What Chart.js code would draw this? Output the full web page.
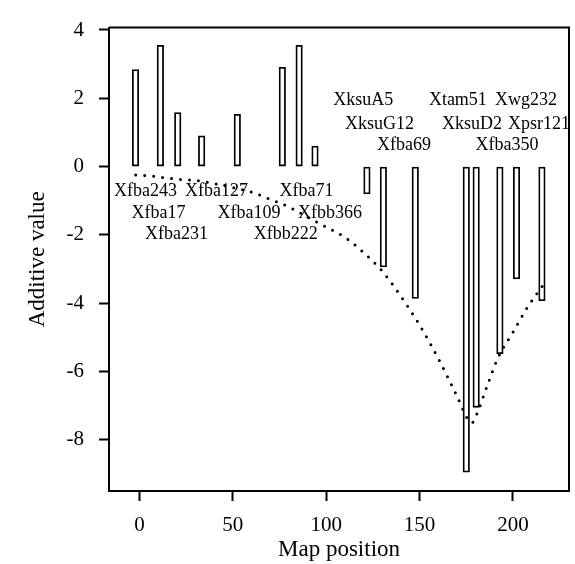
<!DOCTYPE html>
<html>
<head>
<meta charset="utf-8">
<title>Additive value by map position</title>
<script src="https://cdn.jsdelivr.net/npm/chart.js@4.4.1/dist/chart.umd.min.js"></script>
<style>
  html, body { margin: 0; padding: 0; background: #fff; }
  #wrap { width: 575px; height: 564px; position: relative; }
</style>
</head>
<body>
<div id="wrap"><canvas id="qtlChart"></canvas></div>
<script>
// Marker positions (cM) and their additive values
const markerPos = [-2.1, 11.2, 20.5, 33.3, 52.4, 76.5, 85.5, 94, 121.8, 130.6, 147.7, 175, 180.3, 193, 201.9, 215.5];
const additiveValues = [2.84, 3.55, 1.58, 0.90, 1.53, 2.91, 3.55, 0.60, -0.80, -2.94, -3.86, -8.95, -7.05, -5.48, -3.29, -3.93];
const markerNames = ['Xfba243', 'Xfba17', 'Xfba231', 'Xfba127', 'Xfba109', 'Xfbb222', 'Xfba71', 'Xfbb366',
  'XksuA5', 'XksuG12', 'Xfba69', 'Xtam51', 'XksuD2', 'Xfba350', 'Xwg232', 'Xpsr121'];

// Dotted curve along the map
const curvePos = [-2, 5, 14, 23, 29, 40, 60, 70, 80, 90, 100, 110, 120, 130, 140, 150, 160, 170, 176, 178, 181, 186, 192, 200, 208, 216];
const curveValues = [-0.25, -0.27, -0.33, -0.38, -0.40, -0.5, -0.75, -0.96, -1.18, -1.48, -1.77, -2.07, -2.52, -3.06, -3.8, -4.64, -5.62, -6.72, -7.42, -7.5, -7.2, -6.45, -5.6, -4.85, -4.1, -3.48];

// Axis ticks
const xTicks = [0, 50, 100, 150, 200];
const yTicks = [-8, -6, -4, -2, 0, 2, 4];

// Where each marker name sits (in axis units)
const labelX = [3.3, 10.2, 19.8, 41.2, 58.6, 78.4, 89.5, 102, 119.8, 128.6, 141.6, 170.5, 178, 196.8, 207, 214];
const labelY = [-0.71, -1.37, -1.99, -0.71, -1.37, -1.99, -0.71, -1.37, 1.95, 1.24, 0.61, 1.95, 1.24, 0.61, 1.95, 1.24];

Chart.defaults.font.family = "'Liberation Serif', 'Times New Roman', serif";
Chart.defaults.color = '#000';

// Frame on top and right + marker names
const framePlugin = {
  id: 'frame',
  afterDatasetsDraw(chart) {
    const { ctx, chartArea: a, scales } = chart;
    ctx.save();
    ctx.font = "18px 'Liberation Serif', serif";
    ctx.fillStyle = '#000';
    ctx.textAlign = 'center';
    ctx.textBaseline = 'middle';
    markerNames.forEach((name, i) => {
      ctx.fillText(name, scales.x.getPixelForValue(labelX[i]), scales.y.getPixelForValue(labelY[i]));
    });
    ctx.strokeStyle = '#000';
    ctx.lineWidth = 2;
    ctx.beginPath();
    ctx.moveTo(a.left, a.top);
    ctx.lineTo(a.right, a.top);
    ctx.lineTo(a.right, a.bottom);
    ctx.stroke();
    ctx.restore();
  }
};

new Chart(document.getElementById('qtlChart'), {
  type: 'bar',
  data: {
    datasets: [
      {
        type: 'line',
        data: curvePos.map((x, i) => ({ x, y: curveValues[i] })),
        borderColor: '#000',
        borderWidth: 3,
        borderDash: [0, 9],
        borderCapStyle: 'round',
        cubicInterpolationMode: 'monotone',
        pointRadius: 0,
        fill: false,
        order: 0
      },
      {
        type: 'bar',
        data: markerPos.map((x, i) => ({ x, y: additiveValues[i] })),
        backgroundColor: '#fff',
        borderColor: '#000',
        borderWidth: 1.8,
        borderSkipped: false,
        barThickness: 6.5,
        order: 1
      }
    ]
  },
  options: {
    responsive: true,
    maintainAspectRatio: false,
    animation: false,
    layout: { padding: { top: 17, right: 6, left: 0, bottom: 0 } },
    plugins: {
      legend: { display: false },
      tooltip: { enabled: false }
    },
    scales: {
      x: {
        type: 'linear',
        offset: false,
        min: -16.3,
        max: 230,
        afterBuildTicks: s => { s.ticks = xTicks.map(v => ({ value: v })); },
        afterFit: s => { s.height = 73; },
        ticks: { font: { size: 21 }, padding: 12, maxRotation: 0 },
        grid: { offset: false, drawOnChartArea: false, tickLength: 10, tickWidth: 2, color: '#000' },
        border: { display: true, color: '#000', width: 2 },
        title: { display: true, text: 'Map position', font: { size: 23 }, padding: { top: 0, bottom: 0 } }
      },
      y: {
        min: -9.5,
        max: 4.07,
        afterBuildTicks: s => { s.ticks = yTicks.map(v => ({ value: v })); },
        afterFit: s => { s.width = 109; },
        ticks: { font: { size: 21 }, padding: 15 },
        grid: { drawOnChartArea: false, tickLength: 10, tickWidth: 2, color: '#000' },
        border: { display: true, color: '#000', width: 2 },
        title: { display: true, text: 'Additive value', font: { size: 23 }, padding: { top: 24, bottom: 0 } }
      }
    }
  },
  plugins: [framePlugin]
});
</script>
</body>
</html>
